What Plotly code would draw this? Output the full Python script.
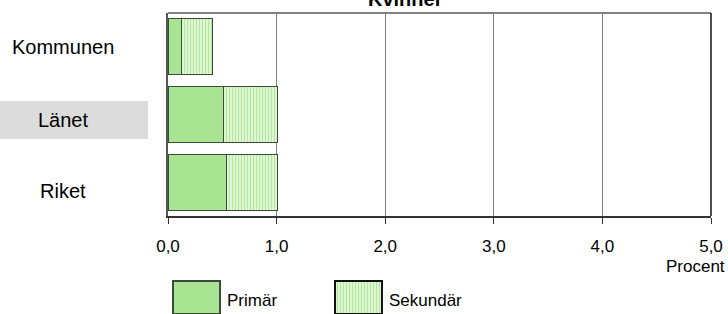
import plotly.graph_objects as go

# ---- data ----
categories = ["Kommunen", "Länet", "Riket"]
primar = [0.12, 0.51, 0.54]
sekundar = [0.29, 0.50, 0.47]
x_ticks = [0, 1, 2, 3, 4, 5]
x_ticktext = ["0,0", "1,0", "2,0", "3,0", "4,0", "5,0"]
title_text = "Kvinner"
unit_text = "Procent"
series_names = ["Primär", "Sekundär"]
highlight_category = "Länet"

# ---- style ----
W, H = 728, 314
ML, MR, MT, MB = 168, 17, 13, 0
PLOT_BOTTOM_PX = 216
FONT = "Liberation Sans, Arial, sans-serif"
FS = 17
FS_CAT = 20
C_PRIM = "#a8e492"
C_SEK_FG = "#b0e99a"
C_SEK_BG = "#eefbe8"
C_EDGE = "#3c4a3c"

paper_h = H - MT - MB
paper_w = W - ML - MR
main_dom_bottom = (H - PLOT_BOTTOM_PX) / paper_h


def px_x(p):
    return (p - ML) / paper_w


def px_y(p):
    return (H - MB - p) / paper_h


sek_pattern = dict(shape="|", fgcolor=C_SEK_FG, bgcolor=C_SEK_BG, size=3, solidity=0.5, fillmode="replace")

fig = go.Figure()
fig.add_trace(go.Bar(y=categories, x=primar, orientation="h", name=series_names[0],
                     marker=dict(color=C_PRIM, line=dict(color=C_EDGE, width=1)),
                     showlegend=False, hoverinfo="x+y"))
fig.add_trace(go.Bar(y=categories, x=sekundar, orientation="h", name=series_names[1],
                     marker=dict(color=C_SEK_BG, pattern=sek_pattern, line=dict(color=C_EDGE, width=1)),
                     showlegend=False, hoverinfo="x+y"))

# ---- legend swatches on a hidden helper axis (pixel units from plot left) ----
LEG_TOP_PX = 281
leg_dom_top = px_y(274)
leg_swatch_x = [173 - ML, 335 - ML]
leg_swatch_w = 47
fig.add_trace(go.Bar(x=[leg_swatch_x[0] + leg_swatch_w / 2], y=[H - LEG_TOP_PX], width=[leg_swatch_w],
                     xaxis="x2", yaxis="y2", showlegend=False, hoverinfo="skip",
                     marker=dict(color=C_PRIM, line=dict(color=C_EDGE, width=1.5))))
fig.add_trace(go.Bar(x=[leg_swatch_x[1] + leg_swatch_w / 2], y=[H - LEG_TOP_PX], width=[leg_swatch_w],
                     xaxis="x2", yaxis="y2", showlegend=False, hoverinfo="skip",
                     marker=dict(color=C_SEK_BG, pattern=sek_pattern, line=dict(color="#111111", width=1.5))))

annotations = []
label_x_px = 63
label_yshift = [0, -5, -9]
for cat, ys in zip(categories, label_yshift):
    annotations.append(dict(text=cat, xref="paper", yref="y", x=px_x(label_x_px), y=cat,
                            xanchor="center", yanchor="middle", showarrow=False, yshift=ys,
                            font=dict(family=FONT, size=FS_CAT, color="#000")))

annotations.append(dict(text="<b>" + title_text + "</b>", xref="paper", yref="paper",
                        x=px_x(405), y=1, yanchor="bottom", yshift=1, showarrow=False,
                        font=dict(family=FONT, size=20, color="#000")))
annotations.append(dict(text=unit_text, xref="paper", yref="paper", x=px_x(W - 1),
                        y=px_y(266), xanchor="right", yanchor="middle", showarrow=False,
                        font=dict(family=FONT, size=FS, color="#000")))
for name, sx in zip(series_names, leg_swatch_x):
    annotations.append(dict(text=name, xref="paper", yref="paper",
                            x=(sx + leg_swatch_w + 5) / paper_w, y=px_y(300),
                            xanchor="left", yanchor="middle", showarrow=False,
                            font=dict(family=FONT, size=FS, color="#000")))

shapes = [
    # highlight box behind the "Länet" label
    dict(type="rect", xref="paper", yref="paper", x0=px_x(0), x1=px_x(148), y0=px_y(139), y1=px_y(101),
         fillcolor="#dcdcdc", line=dict(width=0), layer="below"),
    dict(type="line", xref="x domain", yref="y domain", x0=0, x1=1, y0=1, y1=1,
         line=dict(color="#808080", width=2)),
    dict(type="line", xref="x domain", yref="y domain", x0=1, x1=1, y0=0, y1=1,
         line=dict(color="#111111", width=1.5)),
]

fig.update_layout(
    width=W, height=H, autosize=False,
    margin=dict(l=ML, r=MR, t=MT, b=MB, pad=0),
    paper_bgcolor="white", plot_bgcolor="white",
    barmode="stack", bargap=0.17,
    font=dict(family=FONT, size=FS, color="#000"),
    showlegend=False,
    xaxis=dict(range=[0, 5], tickvals=x_ticks, ticktext=x_ticktext, showgrid=True,
               gridcolor="#808080", gridwidth=1, zeroline=False, showline=True,
               linecolor="#333333", linewidth=2, ticks="outside", ticklen=6, tickcolor="#333333",
               tickwidth=1, ticklabelstandoff=8,
               tickfont=dict(family=FONT, size=FS, color="#000"), fixedrange=True),
    yaxis=dict(domain=[main_dom_bottom, 1], categoryorder="array", categoryarray=categories,
               autorange="reversed", showticklabels=False, showgrid=False, zeroline=False,
               showline=True, linecolor="#555555", linewidth=1.5, ticks="", fixedrange=True),
    xaxis2=dict(domain=[0, 1], anchor="y2", range=[0, paper_w], visible=False, fixedrange=True),
    yaxis2=dict(domain=[0, leg_dom_top], anchor="x2", range=[0, H - 274], visible=False, fixedrange=True),
    annotations=annotations,
    shapes=shapes,
)

fig.write_html("out.html", config={"displayModeBar": False, "staticPlot": False},
               post_script="document.body.style.margin='0';document.body.style.overflow='hidden';")
